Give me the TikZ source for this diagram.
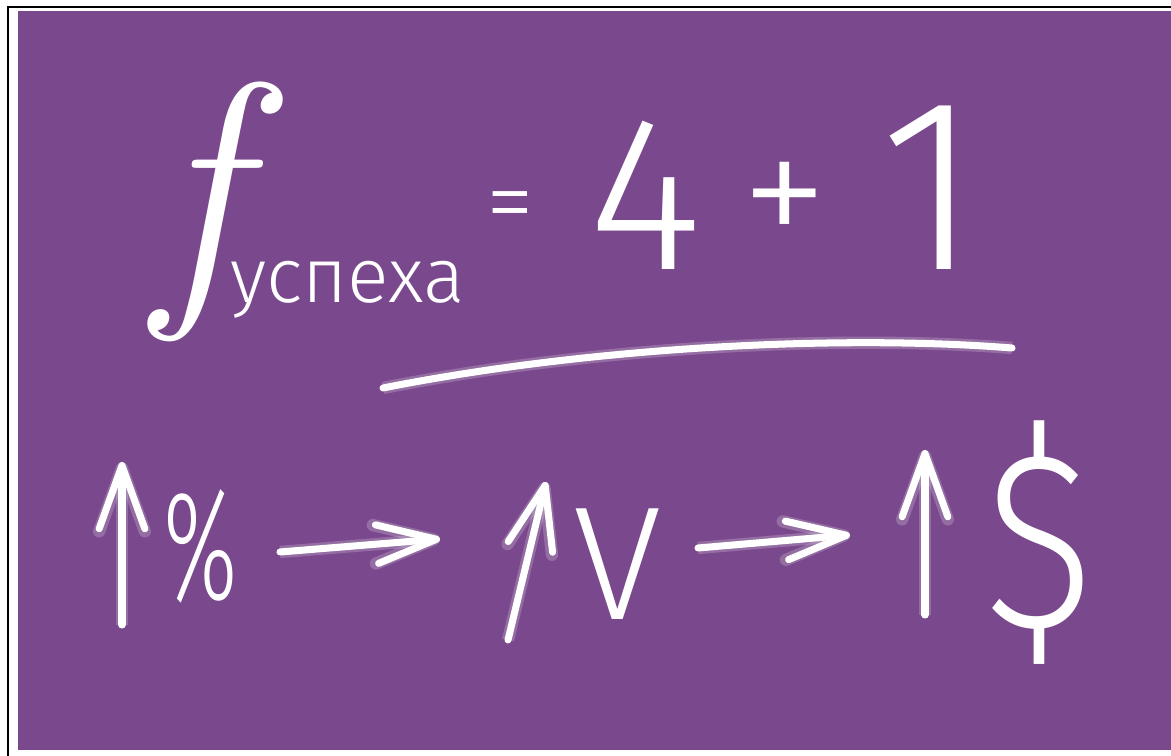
\documentclass[tikz,border=0pt]{standalone}
\usepackage{fontspec}
\usepackage{graphicx}
\IfFontExistsTF{Fira Sans Light}
  {\newfontfamily\handfont{Fira Sans Light}}
  {\newfontfamily\handfont{Fira Sans}}
\usetikzlibrary{arrows.meta, positioning}
\definecolor{board}{RGB}{122,73,141}

\begin{document}
\begin{tikzpicture}[
    x=0.02cm, y=-0.02cm,
    chalk/.style={draw=white, line width=4pt, line cap=round, line join=round,
        preaction={draw=white, draw opacity=.2, line width=7pt}},
    glyph/.style={text=white, inner sep=0pt, font=\handfont},
    uparrow/.style={chalk, -{Straight Barb[length=36pt, width=26pt, round]}},
    flow/.style={chalk, -{Straight Barb[length=34pt, width=22pt, round]}}
]
    \useasboundingbox (0,0) rectangle (1171,756);
    \fill[board] (18,11) rectangle (1171,750);
    \draw[line width=1.6pt] (8,756) -- (8,7) -- (1171,7);

    % formula
    \node[glyph, font=\rmfamily\itshape\fontsize{163}{163}\selectfont, anchor=base] (f) at (198,284) {f};
    \node[glyph, font=\handfont\fontsize{44}{44}\selectfont, anchor=base west] (sub) at (230,303) {успеха};
    \node[glyph, font=\handfont\fontsize{55}{55}\selectfont] (eq) at (510,213) {=};
    \node[glyph, font=\handfont\fontsize{125}{125}\selectfont, anchor=base] (four) at (645,270) {4};
    \node[glyph, font=\handfont\fontsize{100}{100}\selectfont] (plus) at (785,207) {+};
    \node[glyph, font=\handfont\fontsize{140}{140}\selectfont, anchor=base] (one) at (930,270) {1};

    \coordinate (ulA) at (383,388);
    \coordinate (ulB) at (1012,348);
    \draw[chalk] (ulA) .. controls (600,345) and (850,335) .. (ulB);

    % chain
    \node[glyph, font=\handfont\fontsize{89}{89}\selectfont, anchor=base] (pct) at (201,600) {\scalebox{0.6}[1]{\%}};
    \node[glyph, font=\handfont\fontsize{92}{92}\selectfont, anchor=base] (vol) at (618,620) {V};
    \node[glyph, font=\handfont\fontsize{143}{143}\selectfont] (usd) at (1039,543) {\scalebox{0.83}[1]{\$}};

    \coordinate (upA1) at (122,625);
    \coordinate (upA2) at (122,462);
    \coordinate (upB1) at (508,640);
    \coordinate (upB2) at (546,482);
    \coordinate (upC1) at (925,615);
    \coordinate (upC2) at (925,450);
    \draw[uparrow] (upA1) -- (upA2);
    \draw[uparrow] (upB1) -- (upB2);
    \draw[uparrow] (upC1) -- (upC2);

    \coordinate (flA1) at (280,552);
    \coordinate (flA2) at (440,539);
    \coordinate (flB1) at (698,548);
    \coordinate (flB2) at (850,535);
    \draw[flow] (flA1) -- (flA2);
    \draw[flow] (flB1) -- (flB2);
\end{tikzpicture}
\end{document}
